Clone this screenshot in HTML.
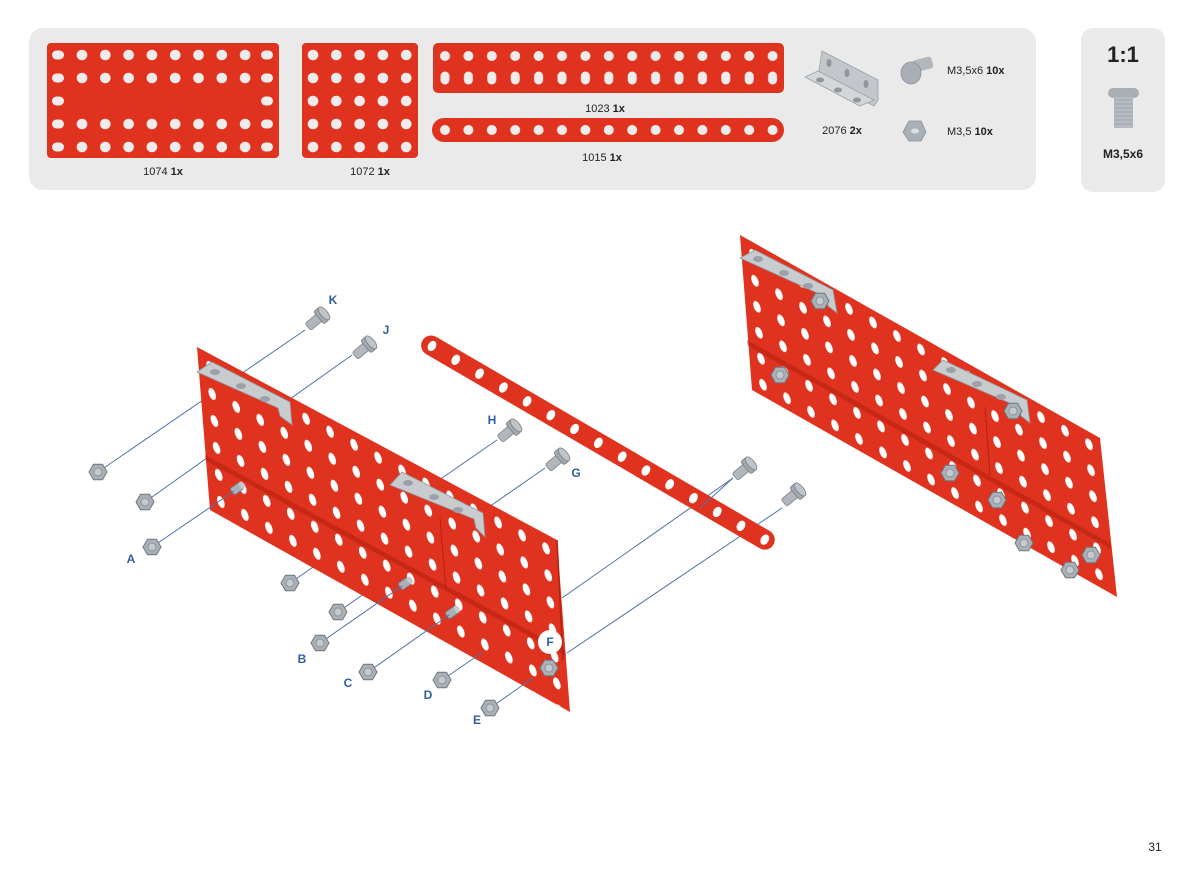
<!DOCTYPE html>
<html><head><meta charset="utf-8"><style>
html,body{margin:0;padding:0;background:#fff;}
svg{display:block;font-family:"Liberation Sans",sans-serif;}
</style></head><body>
<svg width="1200" height="888" viewBox="0 0 1200 888" xmlns="http://www.w3.org/2000/svg">
<defs>
<pattern id="P1" patternUnits="userSpaceOnUse" x="70.35" y="43.5" width="23.3" height="23"><circle cx="11.65" cy="11.5" r="5.3" fill="#f1ecec"/></pattern>
<pattern id="P2" patternUnits="userSpaceOnUse" x="301.35" y="43.5" width="23.3" height="23"><circle cx="11.65" cy="11.5" r="5.3" fill="#f1ecec"/></pattern>
<pattern id="P3" patternUnits="userSpaceOnUse" x="433.3" y="43" width="23.4" height="50"><circle cx="11.7" cy="13" r="5" fill="#f1ecec"/><rect x="7.2" y="28.5" width="9" height="13" rx="4.5" fill="#f1ecec"/></pattern>
<pattern id="P4" patternUnits="userSpaceOnUse" x="433.3" y="118" width="23.4" height="24"><circle cx="11.7" cy="12" r="5" fill="#f1ecec"/></pattern>
<pattern id="PL" patternUnits="userSpaceOnUse" width="24" height="27" patternTransform="matrix(1 0.54 0.08 1 197 347)"><ellipse cx="12" cy="13.5" rx="3.8" ry="5.6" fill="#fff"/></pattern>
<pattern id="PR" patternUnits="userSpaceOnUse" width="24" height="26" patternTransform="matrix(1 0.564 0.077 1 740 235)"><ellipse cx="12" cy="13" rx="3.8" ry="5.4" fill="#fff"/></pattern>
<g id="nut"><polygon points="9,0 4.5,7.8 -4.5,7.8 -9,0 -4.5,-7.8 4.5,-7.8" fill="#a9b0b7" stroke="#6f767d" stroke-width="1"/><circle r="4" fill="#c5cacf" stroke="#858c93" stroke-width="0.8"/></g>
<g id="screw"><rect x="-17" y="-4.5" width="15" height="9" rx="2" fill="#b1b7bd" stroke="#7a8188" stroke-width="0.8"/><rect x="-3" y="-8" width="7" height="16" rx="2" fill="#a2a9b0" stroke="#777e85" stroke-width="0.8"/><ellipse cx="4" cy="0" rx="3.5" ry="8" fill="#bfc4c9" stroke="#777e85" stroke-width="0.8"/></g>
<g id="stud"><rect x="0" y="-4" width="12" height="8" rx="2" fill="#a9b0b7" stroke="#6f767d" stroke-width="0.8"/><ellipse cx="12" cy="0" rx="2.5" ry="4" fill="#c5cacf"/></g>
</defs>

<!-- top panels -->
<rect x="29" y="28" width="1007" height="162" rx="14" fill="#ebeaeb"/>
<rect x="1081" y="28" width="84" height="164" rx="12" fill="#ebeaeb"/>

<!-- 1074 -->
<rect x="47" y="43" width="232" height="115" rx="4" fill="#e0331f"/>
<rect x="70" y="43" width="188" height="46" fill="url(#P1)"/>
<rect x="70" y="112" width="188" height="46" fill="url(#P1)"/>
<g fill="#f1ecec">
<rect x="52" y="50.5" width="12" height="9" rx="4.5"/><rect x="52" y="73.5" width="12" height="9" rx="4.5"/><rect x="52" y="96.5" width="12" height="9" rx="4.5"/><rect x="52" y="119.5" width="12" height="9" rx="4.5"/><rect x="52" y="142.5" width="12" height="9" rx="4.5"/>
<rect x="261" y="50.5" width="12" height="9" rx="4.5"/><rect x="261" y="73.5" width="12" height="9" rx="4.5"/><rect x="261" y="96.5" width="12" height="9" rx="4.5"/><rect x="261" y="119.5" width="12" height="9" rx="4.5"/><rect x="261" y="142.5" width="12" height="9" rx="4.5"/>
</g>
<text x="163" y="175" font-size="11" text-anchor="middle" fill="#222">1074 <tspan font-weight="bold">1x</tspan></text>
<!-- 1072 -->
<rect x="302" y="43" width="116" height="115" rx="4" fill="#e0331f"/>
<rect x="302" y="43" width="116" height="115" fill="url(#P2)"/>
<text x="370" y="175" font-size="11" text-anchor="middle" fill="#222">1072 <tspan font-weight="bold">1x</tspan></text>
<!-- 1023 -->
<rect x="433" y="43" width="351" height="50" rx="5" fill="#e0331f"/>
<rect x="433" y="43" width="351" height="50" fill="url(#P3)"/>
<text x="605" y="112" font-size="11" text-anchor="middle" fill="#222">1023 <tspan font-weight="bold">1x</tspan></text>
<!-- 1015 -->
<rect x="432" y="118" width="352" height="24" rx="12" fill="#e0331f"/>
<rect x="433" y="118" width="351" height="24" fill="url(#P4)"/>
<text x="602" y="161" font-size="11" text-anchor="middle" fill="#222">1015 <tspan font-weight="bold">1x</tspan></text>
<!-- 2076 bracket icon -->
<polygon points="822,51 878,80 878,100 874,106 818,77" fill="#c3c7cb" stroke="#9aa0a6" stroke-width="0.8"/>
<polygon points="805,77 818,71 874,100 860,106" fill="#d4d7da" stroke="#9aa0a6" stroke-width="0.8"/>
<g fill="#8f969d"><ellipse cx="829" cy="63" rx="2.5" ry="4"/><ellipse cx="847" cy="73" rx="2.5" ry="4"/><ellipse cx="866" cy="84" rx="2.5" ry="4"/><ellipse cx="820" cy="80" rx="4" ry="2.5"/><ellipse cx="838" cy="90" rx="4" ry="2.5"/><ellipse cx="857" cy="100" rx="4" ry="2.5"/></g>
<text x="842" y="134" font-size="11" text-anchor="middle" fill="#222">2076 <tspan font-weight="bold">2x</tspan></text>
<!-- screw icon -->
<rect x="913" y="61" width="20" height="12" rx="3" fill="#b1b7bd" transform="rotate(-15 913 67)"/>
<ellipse cx="911" cy="73" rx="10" ry="11" fill="#a8afb6" stroke="#8a9198" stroke-width="0.8"/>
<text x="947" y="74" font-size="11" fill="#222">M3,5x6 <tspan font-weight="bold">10x</tspan></text>
<polygon points="926,132 921,141 909,141 903,132 909,121 921,121" fill="#a9b0b7" stroke="#8a9198" stroke-width="0.8"/>
<ellipse cx="915" cy="131" rx="4" ry="2.5" fill="#dde0e3"/>
<text x="947" y="135" font-size="11" fill="#222">M3,5 <tspan font-weight="bold">10x</tspan></text>
<!-- 1:1 -->
<text x="1123" y="62" font-size="22" font-weight="bold" text-anchor="middle" fill="#222">1:1</text>
<rect x="1108" y="88" width="31" height="10" rx="5" fill="#a8aeb4"/>
<rect x="1114" y="97" width="19" height="31" fill="#b5bbc0"/>
<g stroke="#8e959b" stroke-width="0.6"><line x1="1114" y1="100" x2="1133" y2="100"/><line x1="1114" y1="104" x2="1133" y2="104"/><line x1="1114" y1="108" x2="1133" y2="108"/><line x1="1114" y1="112" x2="1133" y2="112"/><line x1="1114" y1="116" x2="1133" y2="116"/><line x1="1114" y1="120" x2="1133" y2="120"/><line x1="1114" y1="124" x2="1133" y2="124"/></g>
<text x="1123" y="158" font-size="12" font-weight="bold" text-anchor="middle" fill="#222">M3,5x6</text>

<!-- LEFT ASSEMBLY -->
<g stroke="#4d72a8" stroke-width="1" fill="none">
<line x1="305" y1="330" x2="98" y2="472"/>
<line x1="352" y1="355" x2="145" y2="502"/>
<line x1="497" y1="440" x2="290" y2="583"/>
<line x1="545" y1="468" x2="338" y2="612"/>
</g>
<polygon points="197,347 557,540 570,712 210,510" fill="#e0331f"/>
<polygon points="197,347 557,540 570,712 210,510" fill="url(#PL)"/>
<polygon points="205,455 565,650 566,656 206,461" fill="#b4220f" opacity="0.6"/>
<line x1="440" y1="518" x2="446" y2="590" stroke="#b4220f" stroke-width="1"/>
<line x1="557" y1="540" x2="563" y2="660" stroke="#b4220f" stroke-width="1.5"/>
<!-- brackets -->
<polygon points="197,372 212,362 290,402 292,425 280,416 278,408" fill="#c9cccf" stroke="#8e959c" stroke-width="0.8"/>
<g fill="#9aa1a8"><ellipse cx="215" cy="372" rx="5" ry="3"/><ellipse cx="241" cy="386" rx="5" ry="3"/><ellipse cx="265" cy="399" rx="5" ry="3"/></g>
<polygon points="390,485 402,472 483,513 485,537 476,528 474,519" fill="#c9cccf" stroke="#8e959c" stroke-width="0.8"/>
<g fill="#9aa1a8"><ellipse cx="408" cy="483" rx="5" ry="3"/><ellipse cx="434" cy="497" rx="5" ry="3"/><ellipse cx="458" cy="510" rx="5" ry="3"/></g>
<!-- studs -->
<use href="#stud" transform="translate(232,492) rotate(-35)"/>
<use href="#stud" transform="translate(400,587) rotate(-35)"/>
<use href="#stud" transform="translate(447,616) rotate(-35)"/>
<g stroke="#4d72a8" stroke-width="1" fill="none">
<line x1="152" y1="547" x2="234" y2="491"/>
<line x1="320" y1="643" x2="402" y2="586"/>
<line x1="368" y1="672" x2="449" y2="615"/>
<line x1="442" y1="680" x2="483" y2="652"/>
<line x1="490" y1="708" x2="533" y2="678"/>
<line x1="567" y1="653" x2="782" y2="508"/>
<line x1="562" y1="598" x2="733" y2="478"/>
</g>
<!-- nuts -->
<use href="#nut" x="98" y="472"/>
<use href="#nut" x="145" y="502"/>
<use href="#nut" x="152" y="547"/>
<use href="#nut" x="290" y="583"/>
<use href="#nut" x="338" y="612"/>
<use href="#nut" x="320" y="643"/>
<use href="#nut" x="368" y="672"/>
<use href="#nut" x="442" y="680"/>
<use href="#nut" x="490" y="708"/>
<use href="#nut" x="549" y="668"/>
<!-- screws -->
<use href="#screw" transform="translate(321,316) rotate(-40)"/>
<use href="#screw" transform="translate(368,345) rotate(-40)"/>
<use href="#screw" transform="translate(513,428) rotate(-40)"/>
<use href="#screw" transform="translate(561,457) rotate(-40)"/>
<!-- strip -->
<g transform="translate(432,346) rotate(30.2)">
<rect x="-11" y="-10" width="406" height="20" rx="10" fill="#e0331f"/>
<g fill="#fff"><ellipse cx="0" cy="0" rx="4" ry="5.5"/><ellipse cx="27.5" cy="0" rx="4" ry="5.5"/><ellipse cx="55" cy="0" rx="4" ry="5.5"/><ellipse cx="82.5" cy="0" rx="4" ry="5.5"/><ellipse cx="110" cy="0" rx="4" ry="5.5"/><ellipse cx="137.5" cy="0" rx="4" ry="5.5"/><ellipse cx="165" cy="0" rx="4" ry="5.5"/><ellipse cx="192.5" cy="0" rx="4" ry="5.5"/><ellipse cx="220" cy="0" rx="4" ry="5.5"/><ellipse cx="247.5" cy="0" rx="4" ry="5.5"/><ellipse cx="275" cy="0" rx="4" ry="5.5"/><ellipse cx="302.5" cy="0" rx="4" ry="5.5"/><ellipse cx="330" cy="0" rx="4" ry="5.5"/><ellipse cx="357.5" cy="0" rx="4" ry="5.5"/><ellipse cx="385" cy="0" rx="4" ry="5.5"/></g>
</g>
<line x1="700" y1="508" x2="733" y2="478" stroke="#4d72a8" stroke-width="1"/>
<use href="#screw" transform="translate(748,466) rotate(-40)"/>
<use href="#screw" transform="translate(797,492) rotate(-40)"/>
<!-- F marker -->
<circle cx="550" cy="642" r="12" fill="#fff"/>
<!-- labels -->
<g font-size="12" font-weight="bold" fill="#2f5f9e" text-anchor="middle">
<text x="333" y="304">K</text><text x="386" y="334">J</text><text x="492" y="424">H</text><text x="576" y="477">G</text>
<text x="131" y="563">A</text><text x="302" y="663">B</text><text x="348" y="687">C</text><text x="428" y="699">D</text><text x="477" y="724">E</text><text x="550" y="646">F</text>
</g>

<!-- RIGHT ASSEMBLY -->
<polygon points="740,235 1100,438 1117,597 752,390" fill="#e0331f"/>
<polygon points="740,235 1100,438 1117,597 752,390" fill="url(#PR)"/>
<polygon points="747,340 1110,543 1111,549 748,346" fill="#b4220f" opacity="0.6"/>
<line x1="985" y1="407" x2="990" y2="475" stroke="#b4220f" stroke-width="1"/>
<polygon points="740,258 755,250 833,290 837,313 828,306 826,297" fill="#c9cccf" stroke="#8e959c" stroke-width="0.8"/>
<g fill="#9aa1a8"><ellipse cx="758" cy="259" rx="5" ry="3"/><ellipse cx="784" cy="273" rx="5" ry="3"/><ellipse cx="808" cy="286" rx="5" ry="3"/></g>
<use href="#nut" x="820" y="301"/>
<polygon points="933,370 943,360 1027,400 1030,423 1021,416 1019,407" fill="#c9cccf" stroke="#8e959c" stroke-width="0.8"/>
<g fill="#9aa1a8"><ellipse cx="951" cy="370" rx="5" ry="3"/><ellipse cx="977" cy="384" rx="5" ry="3"/><ellipse cx="1001" cy="397" rx="5" ry="3"/></g>
<use href="#nut" x="1013" y="411"/>
<use href="#nut" x="780" y="375"/>
<use href="#nut" x="950" y="473"/>
<use href="#nut" x="997" y="500"/>
<use href="#nut" x="1024" y="543"/>
<use href="#nut" x="1070" y="570"/>
<use href="#nut" x="1091" y="555"/>

<text x="1155" y="851" font-size="12" text-anchor="middle" fill="#222">31</text>
</svg>
</body></html>
